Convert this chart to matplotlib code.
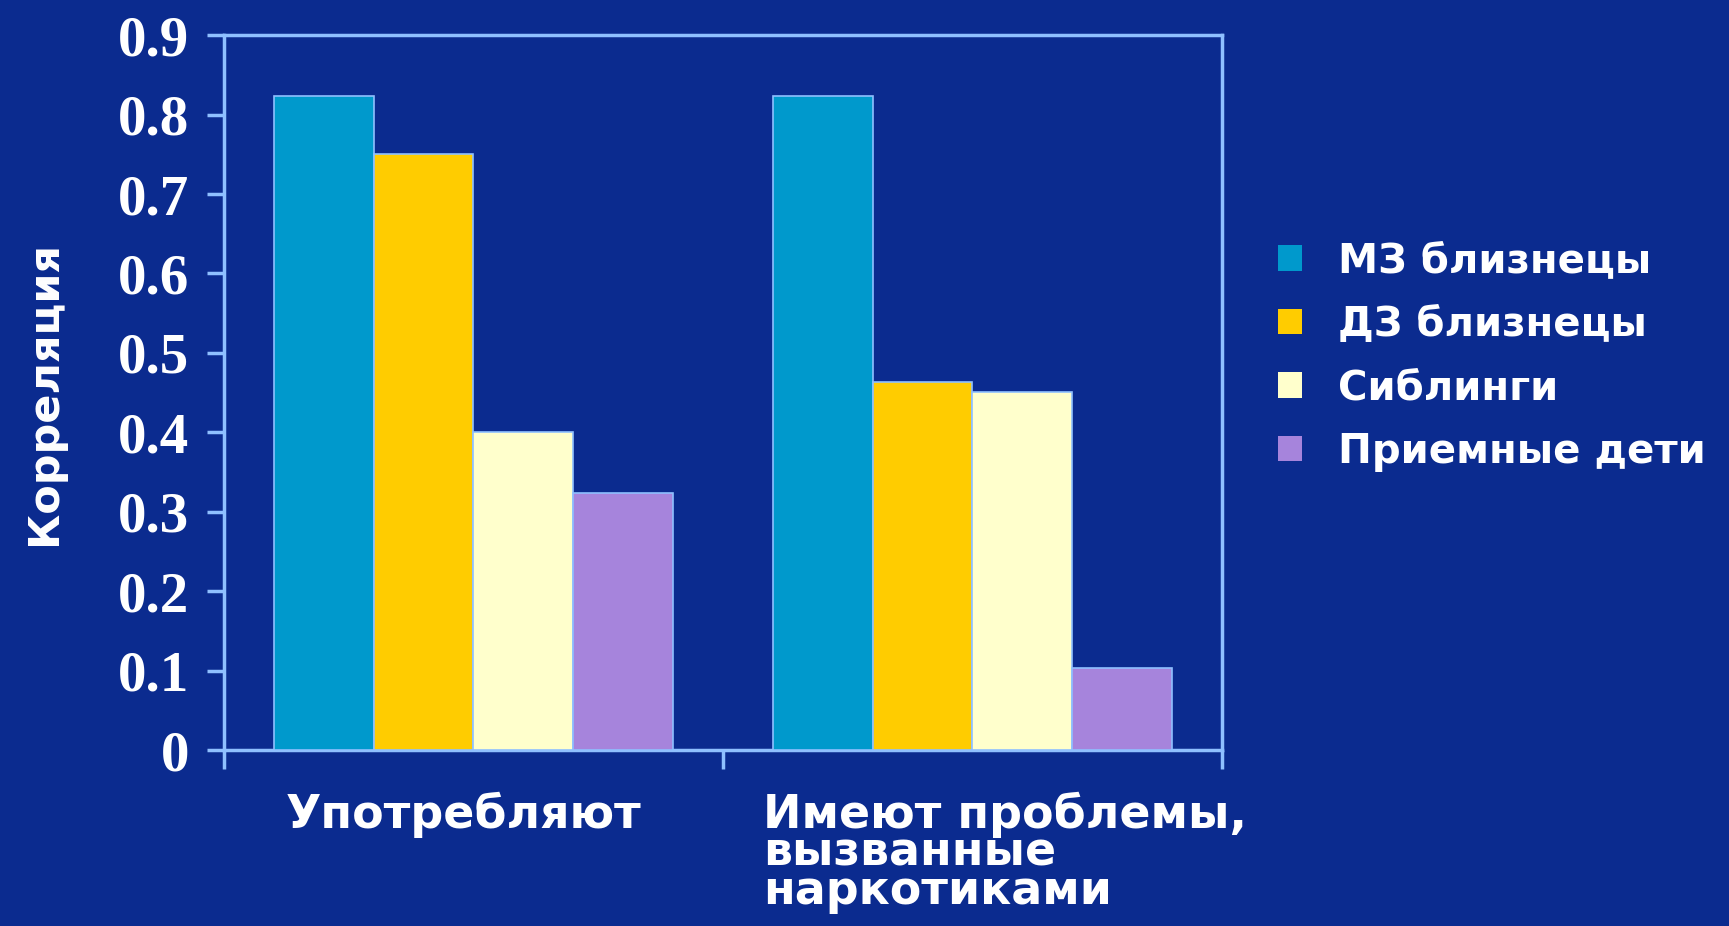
import matplotlib
matplotlib.use("Agg")
import matplotlib.pyplot as plt
import numpy as np

# Данные
categories = ["Употребляют", "Имеют проблемы,\nвызванные\nнаркотиками"]
series_names = ["МЗ близнецы", "ДЗ близнецы", "Сиблинги", "Приемные дети"]
mz_twins = [0.824, 0.824]
dz_twins = [0.75, 0.464]
siblings = [0.40, 0.451]
adopted = [0.324, 0.103]
yticks = [0, 0.1, 0.2, 0.3, 0.4, 0.5, 0.6, 0.7, 0.8, 0.9]
ytick_labels = ["0", "0.1", "0.2", "0.3", "0.4", "0.5", "0.6", "0.7", "0.8", "0.9"]

colors = ["#0099cc", "#ffcc00", "#ffffcc", "#a684dc"]
bg = "#0b2b8f"
spine = "#8fc0ff"

fig = plt.figure(figsize=(17.29, 9.26), dpi=100, facecolor=bg)
ax = fig.add_axes([0.1296, 0.19, 0.577, 0.772], facecolor=bg)

x = np.arange(len(categories)) + 0.5
w = 0.2
all_series = [mz_twins, dz_twins, siblings, adopted]
for i, vals in enumerate(all_series):
    ax.bar(x + (i - 1.5) * w, vals, width=w, color=colors[i],
           edgecolor=spine, linewidth=1.2, label=series_names[i], zorder=3)

ax.set_xlim(0, 2)
ax.set_ylim(0, 0.9)

for s in ax.spines.values():
    s.set_color(spine)
    s.set_linewidth(2.5)

# y ticks
ax.set_yticks(yticks)
ax.set_yticklabels(ytick_labels, family="Liberation Serif", fontweight="bold",
                   fontsize=41, color="white")
ax.tick_params(axis="y", direction="out", length=12, width=2.5, color=spine, pad=13)

# x ticks: separators on the axis, labels as text
ax.set_xticks([0, 1, 2])
ax.set_xticklabels([])
ax.tick_params(axis="x", direction="out", length=14, width=2.5, color=spine)

ax.text(x[0] - 0.02, -0.052, categories[0], ha="center", va="top", fontsize=33,
        fontweight="bold", color="white", family="DejaVu Sans",
        transform=ax.transData)
ax.text(x[1] - 0.42, -0.052, categories[1], ha="left", va="top", fontsize=33,
        fontweight="bold", color="white", family="DejaVu Sans",
        linespacing=0.8, transform=ax.transData, clip_on=False)

ax.set_ylabel("Корреляция", fontsize=31, fontweight="bold", color="white",
              family="DejaVu Sans", labelpad=38)

leg = ax.legend(loc="center left", bbox_to_anchor=(0.718, 0.615),
                bbox_transform=fig.transFigure, frameon=False,
                prop={"family": "DejaVu Sans", "weight": "bold", "size": 29},
                labelcolor="white", handlelength=0.6, handleheight=0.6,
                handletextpad=0.9, labelspacing=0.58)
for h in leg.legend_handles:
    h.set_edgecolor("none")

fig.savefig("out.png", dpi=100, facecolor=bg)
